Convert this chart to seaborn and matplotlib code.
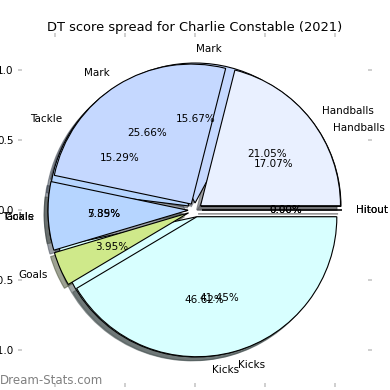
import matplotlib
matplotlib.use("Agg")
import matplotlib.pyplot as plt
import seaborn as sns

sns.set_style("white")
plt.rcParams['font.family'] = ['DejaVu Sans']
plt.rcParams['text.color'] = 'black'
plt.rcParams['xtick.labelcolor'] = 'black'
plt.rcParams['ytick.labelcolor'] = 'black'

labels = ["Handballs", "Mark", "Tackle", "Goals", "Kicks", "Hitout"]
colors = ["#e9f0ff", "#c5d8ff", "#b6d5ff", "#cfe98a", "#d8ffff", "#f0f0f0"]
# lower pie (drawn first)
values_b = [17.07, 15.67, 15.29, 5.35, 46.62, 0.0]
# upper pie (drawn on top)
values_a = [21.05, 25.66, 7.89, 3.95, 41.45, 0.0]
explode = [0.05] * len(labels)

ticks = [-1.0, -0.5, 0.0, 0.5, 1.0]

fig = plt.figure(figsize=(3.9, 3.9), dpi=100)
ax = fig.add_axes([22/390, 7/390, 346/390, 346/390])

for vals in (values_b, values_a):
    ax.pie(vals, labels=labels, colors=colors, explode=explode, shadow=True,
           autopct='%1.2f%%', startangle=0, counterclock=True, frame=True,
           wedgeprops=dict(edgecolor='black', linewidth=0.8),
           textprops=dict(fontsize=7.5, color='black'))

lim = 1.236
ax.set_xlim(-lim, lim)
ax.set_ylim(-lim, lim)
ax.set_aspect('equal')
ax.set_xticks(ticks)
ax.set_yticks(ticks)
for s in ax.spines.values():
    s.set_visible(False)
ax.tick_params(axis='both', which='both', direction='out', length=3, width=1.3,
               color='#cccccc', labelsize=7.5, pad=3, labelcolor='black',
               bottom=True, top=True, left=True, right=True,
               labelbottom=True, labelleft=True, labeltop=False, labelright=False)

ax.set_title("DT score spread for Charlie Constable (2021)", fontsize=9.4,
             pad=4, color='black')

fig.text(0.0, 10/390, "Dream-Stats.com", color='#808080', fontsize=8.5,
         ha='left', va='center')

fig.savefig("out.png", dpi=100)
